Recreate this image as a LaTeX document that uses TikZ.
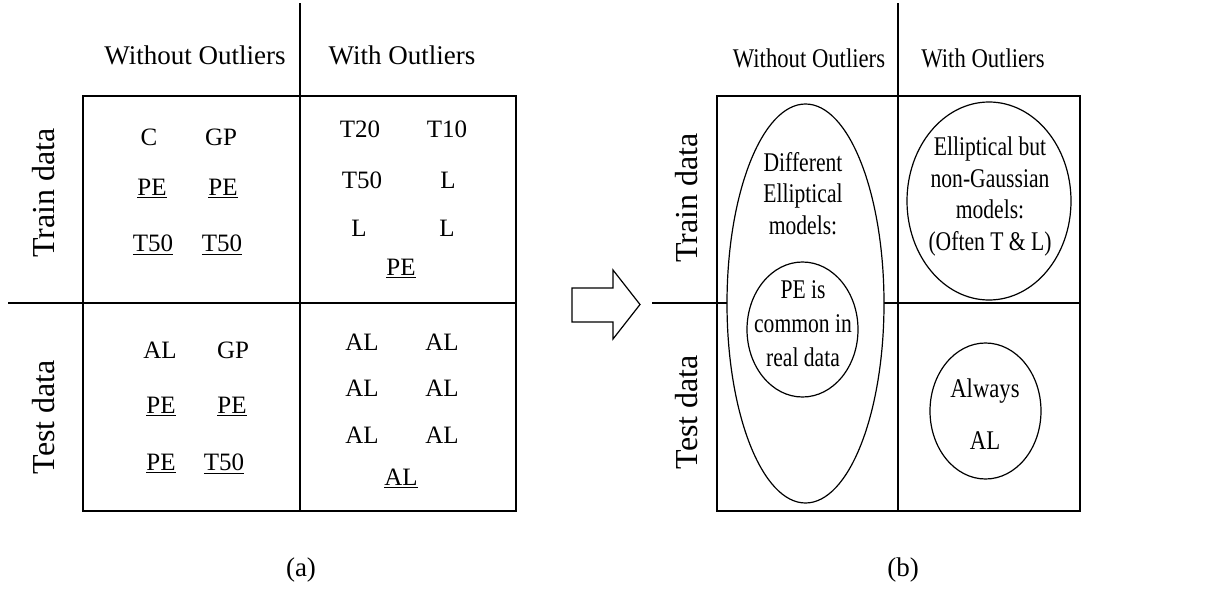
\documentclass[tikz,border=0pt]{standalone}
\usepackage{fontspec}
\setmainfont{Liberation Serif}
\newfontfamily\narrowserif[FakeStretch=0.84]{Liberation Serif}
\newfontfamily\narrowerserif[FakeStretch=0.8]{Liberation Serif}
\usetikzlibrary{shapes.geometric}
\tikzset{
  gridline/.style={line width=1.4pt},
  frame/.style={line width=0.8pt},
  head/.style={font=\fontsize{13.5}{16}\selectfont},
  narrowhead/.style={font=\narrowserif\fontsize{13.5}{16}\selectfont},
  side/.style={rotate=90, font=\fontsize{16}{19}\selectfont},
  cell/.style={anchor=base, font=\fontsize{12.5}{14}\selectfont},
  blob/.style={ellipse, draw, line width=0.6pt, fill=white, inner sep=0pt, outer sep=0pt},
  note/.style={align=center, font=\narrowerserif\fontsize{13.5}{15.7}\selectfont}
}

\begin{document}
\begin{tikzpicture}[x=0.5pt, y=-0.5pt]
  \useasboundingbox (0,0) rectangle (1226,589);

  % (a) grid
  \draw[frame] (83,96) rectangle (516,511);
  \draw[gridline] (300,3) -- (300,511);
  \draw[gridline] (8,303) -- (516,303);
  \node[head] (aWo) at (195,55) {Without Outliers};
  \node[head] (aW) at (402,55) {With Outliers};
  \node[side] (aTrain) at (44,193) {Train data};
  \node[side] (aTest) at (44,417) {Test data};

  % (a) train, without outliers
  \node[cell] (a11) at (149,145) {C};
  \node[cell] (a12) at (221,145) {GP};
  \node[cell] (a13) at (152,195) {\underline{PE}};
  \node[cell] (a14) at (223,195) {\underline{PE}};
  \node[cell] (a15) at (153,251) {\underline{T50}};
  \node[cell] (a16) at (222,251) {\underline{T50}};
  % (a) train, with outliers
  \node[cell] (a21) at (360,137) {T20};
  \node[cell] (a22) at (447,137) {T10};
  \node[cell] (a23) at (362,188) {T50};
  \node[cell] (a24) at (448,188) {L};
  \node[cell] (a25) at (359,236) {L};
  \node[cell] (a26) at (447,236) {L};
  \node[cell] (a27) at (401,275) {\underline{PE}};
  % (a) test, without outliers
  \node[cell] (a31) at (160,358) {AL};
  \node[cell] (a32) at (233,358) {GP};
  \node[cell] (a33) at (161,413) {\underline{PE}};
  \node[cell] (a34) at (232,413) {\underline{PE}};
  \node[cell] (a35) at (161,470) {\underline{PE}};
  \node[cell] (a36) at (224,470) {\underline{T50}};
  % (a) test, with outliers
  \foreach \yy [count=\i] in {350,396,443} {
    \node[cell] (a4\i l) at (362,\yy) {AL};
    \node[cell] (a4\i r) at (442,\yy) {AL};
  }
  \node[cell] (a47) at (401,485) {\underline{AL}};
  \node[head] (capA) at (301,570) {(a)};

  % block arrow
  \draw[line width=0.6pt] (572,288) -- (613,288) -- (613,270) -- (640,304.5)
    -- (613,339) -- (613,322) -- (572,322) -- cycle;

  % (b) grid
  \draw[frame] (717,96) rectangle (1080,511);
  \draw[gridline] (898,3) -- (898,511);
  \draw[gridline] (652,303) -- (1080,303);
  \node[narrowhead] (bWo) at (809,58) {Without Outliers};
  \node[narrowhead] (bW) at (983,58) {With Outliers};
  \node[side] (bTrain) at (687,198) {Train data};
  \node[side] (bTest) at (687,412) {Test data};

  % (b) regions
  \node[blob, minimum width=78.5pt, minimum height=199.5pt] (ellAll) at (805.5,303.5) {};
  \node[blob, minimum width=55.5pt, minimum height=67.5pt] (ellPE) at (802.5,329.5) {};
  \node[blob, minimum width=82pt, minimum height=99pt] (ellTL) at (989,201) {};
  \node[blob, minimum width=55.5pt, minimum height=68pt] (ellAL) at (985.5,411) {};
  \node[note] (txtAll) at (803,193.5) {Different\\Elliptical\\models:};
  \node[note, font=\narrowerserif\fontsize{13.5}{17}\selectfont] (txtPE) at (803,324) {PE is\\common in\\real data};
  \node[note] (txtTL) at (990,196.5) {Elliptical but\\non-Gaussian\\models:\\(Often T \& L)};
  \node[note, font=\narrowserif\fontsize{13.5}{26}\selectfont] (txtAL) at (985,414) {Always\\AL};
  \node[head] (capB) at (903,570) {(b)};
\end{tikzpicture}
\end{document}
